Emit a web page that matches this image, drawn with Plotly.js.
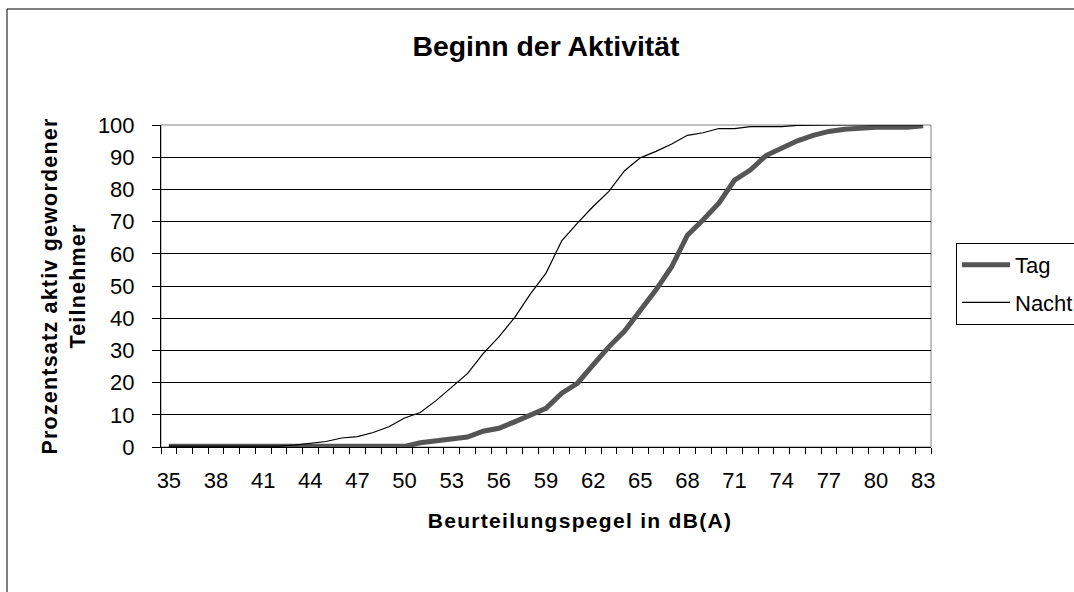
<!DOCTYPE html>
<html>
<head>
<meta charset="utf-8">
<script src="https://cdn.plot.ly/plotly-3.0.1.min.js"></script>
<style>
  html, body { margin: 0; padding: 0; background: #ffffff; overflow: hidden; }
  #chart { width: 1074px; height: 592px; }
  #chart .xtitle { letter-spacing: 1.3px; transform: translate(34px, -2px); }
  #chart .ytitle { letter-spacing: 1.2px; }
</style>
</head>
<body>
<div id="chart"></div>
<script>
// Beurteilungspegel in dB(A) (categories)
const levels = [35,36,37,38,39,40,41,42,43,44,45,46,47,48,49,50,51,52,53,54,55,56,57,58,59,
                60,61,62,63,64,65,66,67,68,69,70,71,72,73,74,75,76,77,78,79,80,81,82,83];
// Prozentsatz aktiv gewordener Teilnehmer – Tag
const tag = [0.2,0.2,0.2,0.2,0.2,0.2,0.2,0.2,0.2,0.2,0.2,0.2,0.2,0.2,0.2,0.2,
             1.3,2.0,2.5,3.1,4.9,5.8,7.8,9.9,12,16.7,19.8,25.5,31.1,36,42.2,48.8,56,65.8,
             70.6,75.7,82.9,86,90.5,93,95.1,96.8,98,98.7,99.1,99.3,99.3,99.3,99.8];
// Prozentsatz aktiv gewordener Teilnehmer – Nacht
const nacht = [0.3,0.3,0.3,0.3,0.3,0.3,0.3,0.3,0.6,1.1,1.7,2.8,3.2,4.5,6.3,9,10.7,14.4,18.6,
               22.8,29,34.2,40.2,47.5,54,64,69.5,74.7,79.4,85.8,89.8,91.8,94.1,96.8,97.6,98.9,
               98.9,99.5,99.5,99.5,99.9,100,100,100,100,100,100,100,100];
// x tick labels
const xTickLabels = [35,38,41,44,47,50,53,56,59,62,65,68,71,74,77,80,83];
const yTickValues = [0,10,20,30,40,50,60,70,80,90,100];

const FONT = 'Liberation Sans, Arial, Helvetica, sans-serif';

const traces = [
  {
    x: levels, y: tag, name: 'Tag', type: 'scatter', mode: 'lines',
    line: { color: '#555555', width: 5 }, legendgroup: 'a'
  },
  {
    x: levels, y: nacht, name: 'Nacht', type: 'scatter', mode: 'lines',
    line: { color: '#000000', width: 1.2 }, legendgroup: 'b'
  }
];

const L = 161, R = 931, T = 125, B = 447, W = 1074, H = 592;
const pw = R - L, ph = B - T;

const layout = {
  width: W, height: H,
  margin: { l: L, r: W - R, t: T, b: H - B, autoexpand: false },
  paper_bgcolor: '#ffffff', plot_bgcolor: '#ffffff',
  font: { family: FONT, color: '#000000', size: 22 },
  showlegend: true,
  title: {
    text: '<b>Beginn der Aktivität</b>',
    font: { family: FONT, size: 28.4, color: '#000000' },
    xref: 'paper', x: 0.5, xanchor: 'center',
    yref: 'container', y: 1 - 46 / H, yanchor: 'middle'
  },
  xaxis: {
    type: 'linear', range: [34.5, 83.5],
    tickmode: 'array', tickvals: xTickLabels, ticktext: xTickLabels.map(String),
    ticks: 'outside', ticklen: 6, tickcolor: 'rgba(0,0,0,0)',
    ticklabelstandoff: 8,
    tickfont: { family: FONT, size: 22, color: '#000000' },
    showgrid: false, zeroline: false,
    showline: true, linecolor: '#000000', linewidth: 1,
    minor: { ticks: 'outside', ticklen: 6, tickcolor: '#000000', tick0: 34.5, dtick: 1, showgrid: false },
    title: { text: '<b>Beurteilungspegel in dB(A)</b>', font: { family: FONT, size: 21, color: '#000000' }, standoff: 22 },
    fixedrange: true
  },
  yaxis: {
    range: [0, 100], tickmode: 'array', tickvals: yTickValues,
    ticks: 'outside', ticklen: 8, tickcolor: '#000000',
    ticklabelstandoff: 13,
    tickfont: { family: FONT, size: 22, color: '#000000' },
    showgrid: true, gridcolor: '#000000', gridwidth: 1,
    zeroline: false, showline: true, linecolor: '#000000', linewidth: 1,
    title: { text: '<b>Prozentsatz aktiv gewordener<br>Teilnehmer</b>', font: { family: FONT, size: 21.5, color: '#000000' }, standoff: 6 },
    fixedrange: true
  },
  legend: {
    x: (956 - L) / pw, xanchor: 'left', xref: 'paper',
    y: (B - 243) / ph, yanchor: 'top', yref: 'paper',
    bordercolor: '#000000', borderwidth: 1, bgcolor: '#ffffff',
    font: { family: FONT, size: 22, color: '#000000' },
    tracegroupgap: 6, itemwidth: 48
  },
  shapes: [
    { type: 'rect', xref: 'paper', yref: 'paper', x0: 0, x1: 1, y0: 0, y1: 1,
      line: { color: '#808080', width: 1 }, layer: 'below' },
    { type: 'rect', xref: 'paper', yref: 'paper',
      x0: (7 - L) / pw, x1: (W + 50 - L) / pw, y0: -(H + 50 - B) / ph, y1: (B - 9) / ph,
      line: { color: '#000000', width: 1 }, fillcolor: 'rgba(0,0,0,0)', layer: 'below' }
  ]
};

Plotly.newPlot('chart', traces, layout, { displayModeBar: false, staticPlot: true });
</script>
</body>
</html>
